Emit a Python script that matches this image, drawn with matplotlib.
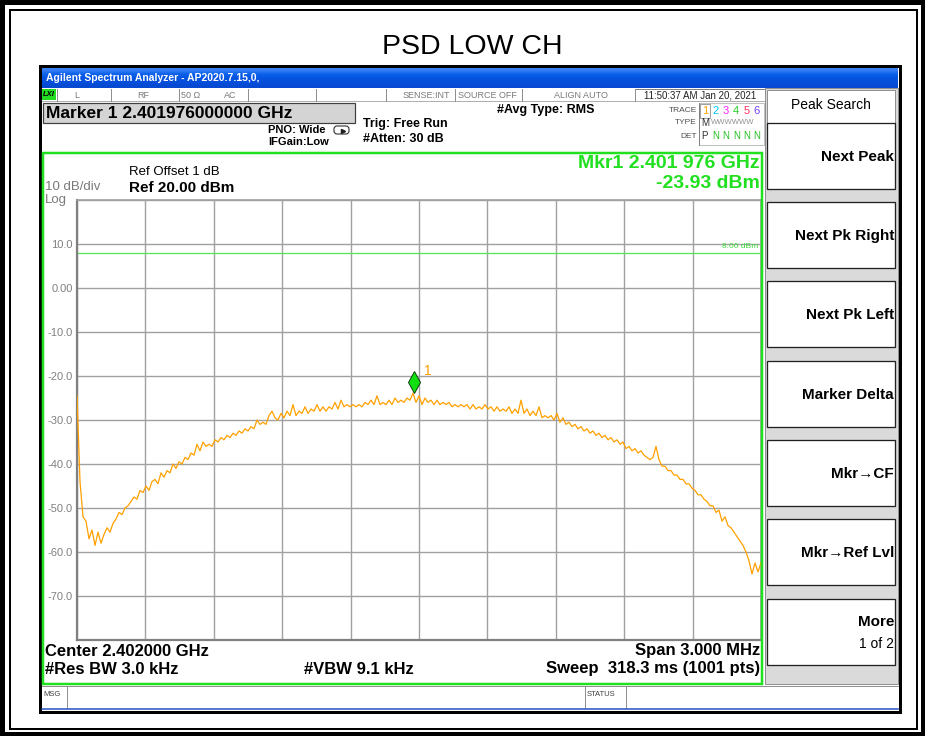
import numpy as np
import matplotlib
matplotlib.use("Agg")
import matplotlib.pyplot as plt
from matplotlib import transforms
from matplotlib.patches import Rectangle, FancyBboxPatch

plt.rcParams['font.family'] = ['Liberation Sans', 'DejaVu Sans']

W, H = 925, 736

# analyzer settings
center_ghz = 2.402
span_mhz = 3.0
y_grid = [20, 10, 0, -10, -20, -30, -40, -50, -60, -70, -80]
y_labels = ['', '10.0', '0.00', '-10.0', '-20.0', '-30.0', '-40.0', '-50.0', '-60.0', '-70.0', '']
display_line_dbm = 8.0
marker_ghz = 2.401976
marker_dbm = -23.93

# trace 1
psd_dbm = [
    -24.5, -44.0, -52.0, -53.0, -57.0, -55.0, -58.5, -55.5, -58.0, -56.0,
    -54.5, -55.5, -53.5, -52.5, -51.0, -51.5, -50.0, -49.5, -48.5, -47.5,
    -48.0, -46.0, -46.5, -45.0, -46.0, -44.0, -43.5, -44.5, -42.0, -43.0,
    -41.5, -42.0, -40.0, -41.0, -39.5, -40.0, -38.5, -39.0, -37.5, -38.0,
    -35.5, -37.0, -35.0, -36.0, -35.5, -36.0, -34.5, -35.0, -34.0, -34.5,
    -33.5, -34.0, -33.0, -33.5, -32.5, -33.0, -32.0, -32.5, -31.5, -32.0,
    -30.0, -31.0, -30.5, -31.0, -29.0, -28.0, -29.5, -30.0, -28.5, -29.5,
    -28.0, -29.0, -26.5, -29.0, -28.0, -28.5, -27.0, -28.5, -27.5, -28.0,
    -26.5, -28.0, -27.0, -28.0, -27.0, -27.5, -26.0, -27.5, -25.5, -27.0,
    -26.5, -27.0, -26.5, -27.0, -26.5, -27.0, -26.0, -26.5, -25.5, -26.5,
    -24.5, -26.5, -26.0, -26.5, -25.5, -26.5, -25.0, -26.0, -25.5, -26.0,
    -25.0, -25.5, -23.9, -26.0, -24.5, -26.5, -25.0, -26.0, -25.5, -26.5,
    -25.5, -26.5, -26.0, -26.5, -26.0, -27.0, -26.5, -27.0, -26.5, -27.0,
    -26.5, -27.5, -26.5, -27.5, -27.0, -27.5, -26.5, -27.5, -27.0, -28.0,
    -27.0, -28.0, -27.5, -28.0, -27.0, -28.5, -27.5, -28.5, -25.5, -28.5,
    -27.5, -29.0, -28.0, -29.0, -27.0, -29.5, -29.0, -29.5, -29.0, -30.0,
    -28.5, -30.5, -29.5, -31.0, -30.5, -31.5, -31.0, -32.0, -31.5, -32.5,
    -32.0, -33.0, -32.5, -33.5, -33.0, -34.0, -33.5, -34.5, -34.0, -35.0,
    -34.5, -35.5, -35.0, -36.5, -36.0, -37.0, -36.5, -37.5, -37.0, -38.0,
    -38.5, -39.0, -38.5, -36.0, -39.0, -40.5, -40.5, -41.5, -41.5, -42.5,
    -42.5, -43.5, -43.5, -44.5, -44.5, -45.5, -46.0, -47.0, -47.0, -48.0,
    -48.5, -49.5, -49.5, -51.0, -50.5, -53.0, -52.0, -54.0, -54.5, -55.5,
    -56.5, -57.5, -58.5, -60.0, -62.0, -65.0, -62.5, -64.5, -62.5,
]

softkeys = ['Next Peak', 'Next Pk Right', 'Next Pk Left', 'Marker Delta',
            'Mkr\u2192CF', 'Mkr\u2192Ref Lvl', 'More']
softkey_tops = [123, 202, 281, 361, 440, 519, 599]

status_items = [('L', 77), ('RF', 143), ('50 \u03a9', 191), ('AC', 230),
                ('SENSE:INT', 426), ('SOURCE OFF', 487), ('ALIGN AUTO', 581)]
status_seps = [57, 111, 179, 248, 316, 386, 455, 522, 635, 765]

trace_nums = ['1', '2', '3', '4', '5', '6']
trace_cols = ['#FFA500', '#00C8FF', '#FF20FF', '#20D020', '#FF3060', '#7040FF']

GREEN = '#20E020'
ORANGE = '#FFA000'
GRAY_TXT = '#7a7a7a'

fig = plt.figure(figsize=(W / 100, H / 100), dpi=100)
fig.patch.set_facecolor('white')

# full-figure canvas in pixel coordinates (y down)
bg = fig.add_axes([0, 0, 1, 1], zorder=0)
bg.axis('off')


def box(x0, y0, x1, y1, fc='none', ec='none', lw=1.0, z=1, artist_on_fig=False):
    r = Rectangle((x0, y0), x1 - x0, y1 - y0, facecolor=fc, edgecolor=ec,
                  linewidth=lw * 0.72, zorder=z)
    if artist_on_fig:
        r.set_transform(bg.transData)
        fig.add_artist(r)
    else:
        bg.add_patch(r)


def txt(x, y, s, size, color='black', weight='normal', ha='left', **kw):
    bg.text(x, y, s, fontsize=size, color=color, fontweight=weight,
            ha=ha, va='center', zorder=5, **kw)


def vline(x, y0, y1, color='#909090', lw=1.0):
    bg.plot([x, x], [y0, y1], color=color, lw=lw * 0.72, zorder=4)


def hline(y, x0, x1, color='#909090', lw=1.0):
    bg.plot([x0, x1], [y, y], color=color, lw=lw * 0.72, zorder=4)


# page frame
box(2, 2, 923, 734, ec='black', lw=5, z=1)
box(10, 10, 917, 729, ec='black', lw=2, z=1)

txt(472, 47, 'PSD LOW CH', 20.5, ha='center')

# analyzer window
box(40, 66, 900, 712, fc='white', ec='black', lw=3, z=1)
grad = np.array([[[0.22, 0.50, 0.96]], [[0.05, 0.38, 0.92]], [[0.02, 0.33, 0.88]],
                 [[0.02, 0.31, 0.86]], [[0.03, 0.29, 0.82]]])
bg.imshow(grad, extent=(42, 898, 88, 68), aspect='auto', zorder=2, interpolation='bilinear')
txt(46, 78, 'Agilent Spectrum Analyzer - AP2020.7.15,0,', 7.5, color='white', weight='bold')

# status row
hline(101, 42, 765, color='#b0b0b0')
box(42, 89, 56, 100, fc='#22DD22', z=3)
txt(43, 95, 'LXI', 5.5, weight='bold', style='italic')
for x in status_seps:
    vline(x, 89, 101, color='#909090')
for s, x in status_items:
    txt(x, 95, s, 6.5, color=GRAY_TXT, ha='center')
box(635, 89, 765, 101, ec='#808080', lw=1, z=3)
txt(700, 95, '11:50:37 AM Jan 20, 2021', 7, color='#222222', ha='center')

# marker readout
box(43, 103, 355, 123, fc='#D4D4D4', ec='#404040', lw=1.2, z=3)
txt(46, 113, 'Marker 1 2.401976000000 GHz', 12.5, weight='bold')
txt(268, 130, 'PNO: Wide', 8, weight='bold')
txt(268, 142, 'IFGain:Low', 8, weight='bold')
bg.add_patch(FancyBboxPatch((334, 126), 15, 8, boxstyle='round,pad=0,rounding_size=3',
                            fc='white', ec='#303030', lw=0.8, zorder=4))
bg.plot([343], [131], marker='>', ms=3, color='#202020', zorder=5)
txt(363, 124, 'Trig: Free Run', 9, weight='bold')
txt(363, 139, '#Atten: 30 dB', 9, weight='bold')
txt(497, 110, '#Avg Type: RMS', 9, weight='bold')

# trace table
box(699, 103, 764, 145, ec='#c0c0c0', lw=1, z=3)
vline(699, 103, 145, color='#808080')
txt(697, 110, 'TRACE', 6, color='#505050', ha='right')
txt(697, 123, 'TYPE', 6, color='#505050', ha='right')
txt(697, 136, 'DET', 6, color='#505050', ha='right')
for k, (s, c) in enumerate(zip(trace_nums, trace_cols)):
    xk = 705 + k * 10.4
    txt(xk, 111, s, 8, color=c, ha='center')
    if k == 0:
        box(700, 104, 710, 118, ec='#a0a0a0', lw=1, z=4)
txt(701, 123, 'M', 7, color='#303030')
txt(711, 123, 'WWWWWW', 5.5, color='#909090')
txt(701, 136, 'P', 7, color='#303030')
for k in range(1, 6):
    txt(705 + k * 10.4, 136, 'N', 7, color='#20C020', ha='center')

# graph panel labels
txt(129, 172, 'Ref Offset 1 dB', 9.5)
txt(129, 188, 'Ref 20.00 dBm', 11, weight='bold')
txt(45, 187, '10 dB/div', 9.5, color=GRAY_TXT)
txt(45, 200, 'Log', 9.5, color=GRAY_TXT)
txt(760, 163, 'Mkr1 2.401 976 GHz', 14, color=GREEN, weight='bold', ha='right')
txt(760, 183, '-23.93 dBm', 14, color=GREEN, weight='bold', ha='right')

txt(45, 651, 'Center 2.402000 GHz', 12, weight='bold')
txt(760, 651, 'Span 3.000 MHz', 12, weight='bold', ha='right')
txt(45, 669, '#Res BW 3.0 kHz', 12, weight='bold')
txt(304, 669, '#VBW 9.1 kHz', 12, weight='bold')
txt(760, 669, 'Sweep  318.3 ms (1001 pts)', 12, weight='bold', ha='right')

# green graph frame (drawn above the plot axes)
box(43, 153, 762, 684, ec=GREEN, lw=2.5, z=6, artist_on_fig=True)

# soft keys
box(765, 88, 898, 684, fc='#DADADA', ec='#909090', lw=1, z=2)
box(767, 90, 895, 123, fc='white', ec='#909090', lw=1, z=3)
txt(831, 105, 'Peak Search', 10, ha='center')
for s, top in zip(softkeys, softkey_tops):
    box(767, top, 895, top + 66, fc='white', ec='#202020', lw=1.3, z=3)
    if s == 'More':
        txt(894, top + 23, s, 11, weight='bold', ha='right')
        txt(894, top + 45, '1 of 2', 10, ha='right')
    else:
        txt(894, top + 34, s, 11, weight='bold', ha='right')

# message bar
hline(686, 42, 898, color='#909090')
vline(67, 686, 708)
vline(585, 686, 708)
vline(626, 686, 708)
txt(43, 695, 'MSG', 5.5, color='#404040')
txt(587, 695, 'STATUS', 5.5, color='#404040')
hline(709, 42, 898, color='#2050C0', lw=1.5)

bg.set_xlim(0, W)
bg.set_ylim(H, 0)

# spectrum plot
f_start = center_ghz - span_mhz / 2000
f_stop = center_ghz + span_mhz / 2000
freq = np.linspace(f_start, f_stop, len(psd_dbm))

ax = fig.add_axes([77 / W, (H - 640) / H, 684 / W, 440 / H], zorder=1)
ax.set_facecolor('white')
ax.set_xlim(f_start, f_stop)
ax.set_ylim(y_grid[-1], y_grid[0])
ax.set_xticks(np.linspace(f_start, f_stop, 11))
ax.set_yticks(y_grid)
ax.set_yticklabels(y_labels)
ax.tick_params(axis='x', length=0, labelbottom=False)
ax.tick_params(axis='y', length=0, pad=3, labelcolor='#808080', labelsize=8)
ax.grid(True, color='#a0a0a0', lw=1.0)
for side in ['left', 'bottom']:
    ax.spines[side].set_color('#808080')
    ax.spines[side].set_linewidth(1.6)
for side in ['top', 'right']:
    ax.spines[side].set_color('#a0a0a0')
    ax.spines[side].set_linewidth(1.2)

ax.axhline(display_line_dbm, color='#50E850', lw=0.9, zorder=2)
ax.annotate('8.00 dBm', xy=(1, display_line_dbm), xycoords=('axes fraction', 'data'),
            xytext=(-3, 6), textcoords='offset pixels', ha='right', va='center',
            fontsize=6, color='#40D840')

ax.plot(freq, psd_dbm, color=ORANGE, lw=0.9, zorder=3)

mk_trans = transforms.offset_copy(ax.transData, fig=fig, x=0, y=11, units='dots')
ax.plot([marker_ghz], [marker_dbm], marker='d', ms=11, mfc='#10E010', mec='#104010',
        mew=0.7, transform=mk_trans, clip_on=False, zorder=5)
ax.annotate('1', xy=(marker_ghz, marker_dbm), xytext=(10, 22), textcoords='offset pixels',
            color=ORANGE, fontsize=10, ha='left', va='center')

fig.savefig('out.png', dpi=100)
